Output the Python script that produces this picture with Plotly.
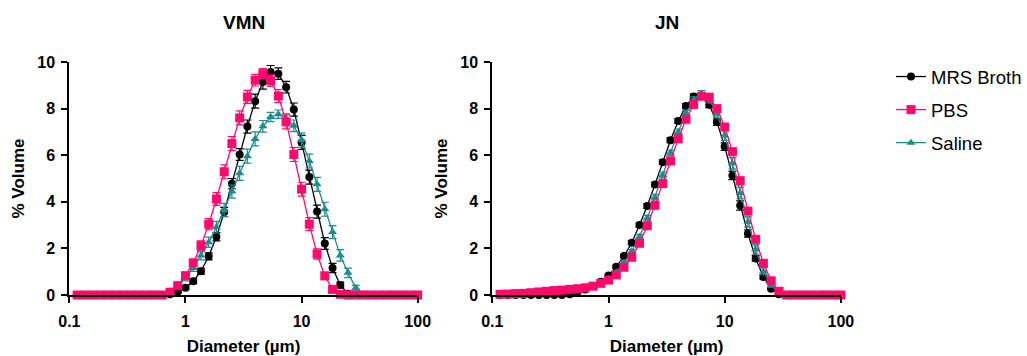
import plotly.graph_objects as go

# size classes (µm), 15 per decade from 0.1 to 100
diameter = [round(10 ** (-1 + k / 15), 4) for k in range(1, 46)]

# ---- VMN ----
vmn_mrs = [0, 0, 0, 0, 0, 0, 0, 0, 0, 0, 0, 0, 0.03, 0.14, 0.31, 0.59, 1.02, 1.66, 2.5, 3.56,
           4.78, 6.03, 7.23, 8.32, 9.14, 9.57, 9.5, 8.92, 7.96, 6.55, 5.06, 3.58, 2.21, 1.16, 0.43,
           0.05, 0, 0, 0, 0, 0, 0, 0, 0, 0]
vmn_pbs = [0, 0, 0, 0, 0, 0, 0, 0, 0, 0, 0, 0, 0.12, 0.4, 0.83, 1.38, 2.12, 3.04, 4.12, 5.29,
           6.5, 7.6, 8.5, 9.22, 9.5, 9.2, 8.54, 7.43, 6.03, 4.54, 3.04, 1.76, 0.82, 0.24, 0.03,
           0, 0, 0, 0, 0, 0, 0, 0, 0, 0]
vmn_sal = [0, 0, 0, 0, 0, 0, 0, 0, 0, 0, 0, 0, 0.16, 0.45, 0.73, 1.16, 1.69, 2.26, 2.91, 3.65,
           4.44, 5.22, 5.96, 6.7, 7.24, 7.64, 7.76, 7.57, 7.26, 6.65, 5.75, 4.75, 3.68, 2.7, 1.7,
           0.95, 0.31, 0.04, 0, 0, 0, 0, 0, 0, 0]
vmn_mrs_err = [0, 0, 0, 0, 0, 0, 0, 0, 0, 0, 0, 0, 0.02, 0.05, 0.08, 0.1, 0.12, 0.15, 0.18, 0.2,
               0.22, 0.25, 0.28, 0.3, 0.3, 0.28, 0.25, 0.25, 0.28, 0.3, 0.3, 0.28, 0.25, 0.2, 0.12,
               0.03, 0, 0, 0, 0, 0, 0, 0, 0, 0]
vmn_pbs_err = [0, 0, 0, 0, 0, 0, 0, 0, 0, 0, 0, 0, 0.05, 0.08, 0.12, 0.15, 0.2, 0.24, 0.27, 0.3,
               0.3, 0.3, 0.28, 0.25, 0.22, 0.25, 0.28, 0.3, 0.3, 0.3, 0.28, 0.22, 0.15, 0.06, 0.02,
               0, 0, 0, 0, 0, 0, 0, 0, 0, 0]
vmn_sal_err = [0, 0, 0, 0, 0, 0, 0, 0, 0, 0, 0, 0, 0.05, 0.08, 0.12, 0.15, 0.18, 0.22, 0.25, 0.28,
               0.28, 0.3, 0.3, 0.3, 0.25, 0.2, 0.18, 0.2, 0.25, 0.3, 0.3, 0.3, 0.3, 0.28, 0.25,
               0.2, 0.1, 0.02, 0, 0, 0, 0, 0, 0, 0]

# ---- JN ----
jn_mrs = [0, 0, 0, 0, 0, 0, 0, 0, 0, 0.03, 0.14, 0.24, 0.38, 0.57, 0.84, 1.21, 1.67, 2.24, 3.0,
          3.82, 4.74, 5.7, 6.64, 7.47, 8.11, 8.52, 8.54, 8.16, 7.42, 6.37, 5.13, 3.84, 2.64, 1.57,
          0.77, 0.27, 0.03, 0, 0, 0, 0, 0, 0, 0, 0]
jn_pbs = [0.03, 0.04, 0.06, 0.07, 0.1, 0.13, 0.16, 0.19, 0.21, 0.24, 0.27, 0.31, 0.38, 0.5, 0.64,
          0.86, 1.19, 1.62, 2.22, 2.97, 3.85, 4.78, 5.75, 6.7, 7.54, 8.18, 8.53, 8.49, 8.0, 7.21,
          6.15, 4.9, 3.6, 2.39, 1.36, 0.61, 0.16, 0, 0, 0, 0, 0, 0, 0, 0]
jn_sal = [0.02, 0.03, 0.04, 0.05, 0.07, 0.09, 0.11, 0.13, 0.15, 0.18, 0.22, 0.28, 0.36, 0.5, 0.7,
          0.98, 1.38, 1.88, 2.5, 3.3, 4.2, 5.15, 6.1, 7.0, 7.8, 8.38, 8.65, 8.4, 7.78, 6.85,
          5.65, 4.38, 3.13, 1.95, 1.02, 0.42, 0.08, 0, 0, 0, 0, 0, 0, 0, 0]
jn_mrs_err = [0, 0, 0, 0, 0, 0, 0, 0, 0, 0, 0.01, 0.02, 0.03, 0.04, 0.05, 0.06, 0.07, 0.08, 0.09,
              0.1, 0.1, 0.1, 0.1, 0.1, 0.1, 0.1, 0.1, 0.12, 0.14, 0.16, 0.18, 0.2, 0.16, 0.12,
              0.08, 0.04, 0.01, 0, 0, 0, 0, 0, 0, 0, 0]
jn_pbs_err = [0.01, 0.01, 0.01, 0.01, 0.01, 0.01, 0.01, 0.01, 0.01, 0.01, 0.01, 0.02, 0.02, 0.03,
              0.04, 0.05, 0.06, 0.07, 0.08, 0.08, 0.08, 0.08, 0.08, 0.08, 0.08, 0.08, 0.08, 0.1,
              0.12, 0.14, 0.16, 0.16, 0.14, 0.12, 0.08, 0.04, 0.01, 0, 0, 0, 0, 0, 0, 0, 0]
jn_sal_err = [0.01, 0.01, 0.01, 0.01, 0.01, 0.01, 0.01, 0.01, 0.01, 0.01, 0.01, 0.02, 0.02, 0.03,
              0.04, 0.05, 0.06, 0.08, 0.1, 0.12, 0.12, 0.12, 0.12, 0.12, 0.12, 0.12, 0.12, 0.15,
              0.18, 0.22, 0.25, 0.25, 0.22, 0.2, 0.15, 0.08, 0.02, 0, 0, 0, 0, 0, 0, 0, 0]

series_names = ["MRS Broth", "PBS", "Saline"]
colors = ["#000000", "#FF0A6C", "#1E8C8C"]
symbols = ["circle", "square", "triangle-up"]
msizes = [8, 9, 8]

panels = [
    ("x", "y", [vmn_mrs, vmn_pbs, vmn_sal], [vmn_mrs_err, vmn_pbs_err, vmn_sal_err], True),
    ("x2", "y2", [jn_mrs, jn_pbs, jn_sal], [jn_mrs_err, jn_pbs_err, jn_sal_err], False),
]

FONT = "Arial, Liberation Sans, sans-serif"
fig = go.Figure()
for xa, ya, data, errs, show in panels:
    for i in [0, 2, 1]:
        fig.add_trace(go.Scatter(
            x=diameter, y=data[i], xaxis=xa, yaxis=ya,
            mode="lines+markers", name=series_names[i],
            legendrank=i + 1, legendgroup=series_names[i],
            showlegend=show,
            line=dict(color=colors[i], width=1.3),
            marker=dict(symbol=symbols[i], size=msizes[i], color=colors[i],
                        line=dict(width=0)),
            error_y=dict(type="data", array=errs[i], visible=True, color=colors[i],
                         thickness=1.2, width=4),
            cliponaxis=False,
        ))

W, H = 1027, 356
y_dom = [(H - 295) / H, (H - 62) / H]
axis_common = dict(showline=True, linecolor="black", linewidth=2, ticks="outside",
                   ticklen=6, tickwidth=2, tickcolor="black", showgrid=False, zeroline=False,
                   tickfont=dict(family=FONT, size=16, color="black", weight="bold"),
                   automargin=False)
xcommon = dict(axis_common, type="log", range=[-1, 2], tickvals=[0.1, 1, 10, 100],
               ticktext=["0.1", "1", "10", "100"], ticklabelstandoff=5,
               title=dict(text="Diameter (µm)", font=dict(family=FONT, size=17, color="black",
                                                            weight="bold"), standoff=14))
ycommon = dict(axis_common, range=[0, 10], tickvals=[0, 2, 4, 6, 8, 10], ticklabelstandoff=3,
               title=dict(text="% Volume", font=dict(family=FONT, size=17, color="black",
                                                     weight="bold"), standoff=8))

fig.update_layout(
    width=W, height=H,
    margin=dict(l=0, r=0, t=0, b=0),
    paper_bgcolor="white", plot_bgcolor="white",
    xaxis=dict(xcommon, domain=[69.5 / W, 418.5 / W], anchor="y"),
    yaxis=dict(ycommon, domain=y_dom, anchor="x"),
    xaxis2=dict(xcommon, domain=[493.3 / W, 842.5 / W], anchor="y2"),
    yaxis2=dict(ycommon, domain=y_dom, anchor="x2"),
    legend=dict(x=893 / W, y=1 - 58 / H, xanchor="left", yanchor="top",
                font=dict(family=FONT, size=18.5, color="black"),
                bgcolor="rgba(0,0,0,0)", tracegroupgap=6, traceorder="grouped"),
    annotations=[
        dict(text="<b>VMN</b>", x=244 / W, y=1 - 22 / H, xref="paper", yref="paper",
             showarrow=False, font=dict(family=FONT, size=19, color="black"),
             xanchor="center", yanchor="middle"),
        dict(text="<b>JN</b>", x=668 / W, y=1 - 22 / H, xref="paper", yref="paper",
             showarrow=False, font=dict(family=FONT, size=19, color="black"),
             xanchor="center", yanchor="middle"),
    ],
)

fig.write_html("out.html")
